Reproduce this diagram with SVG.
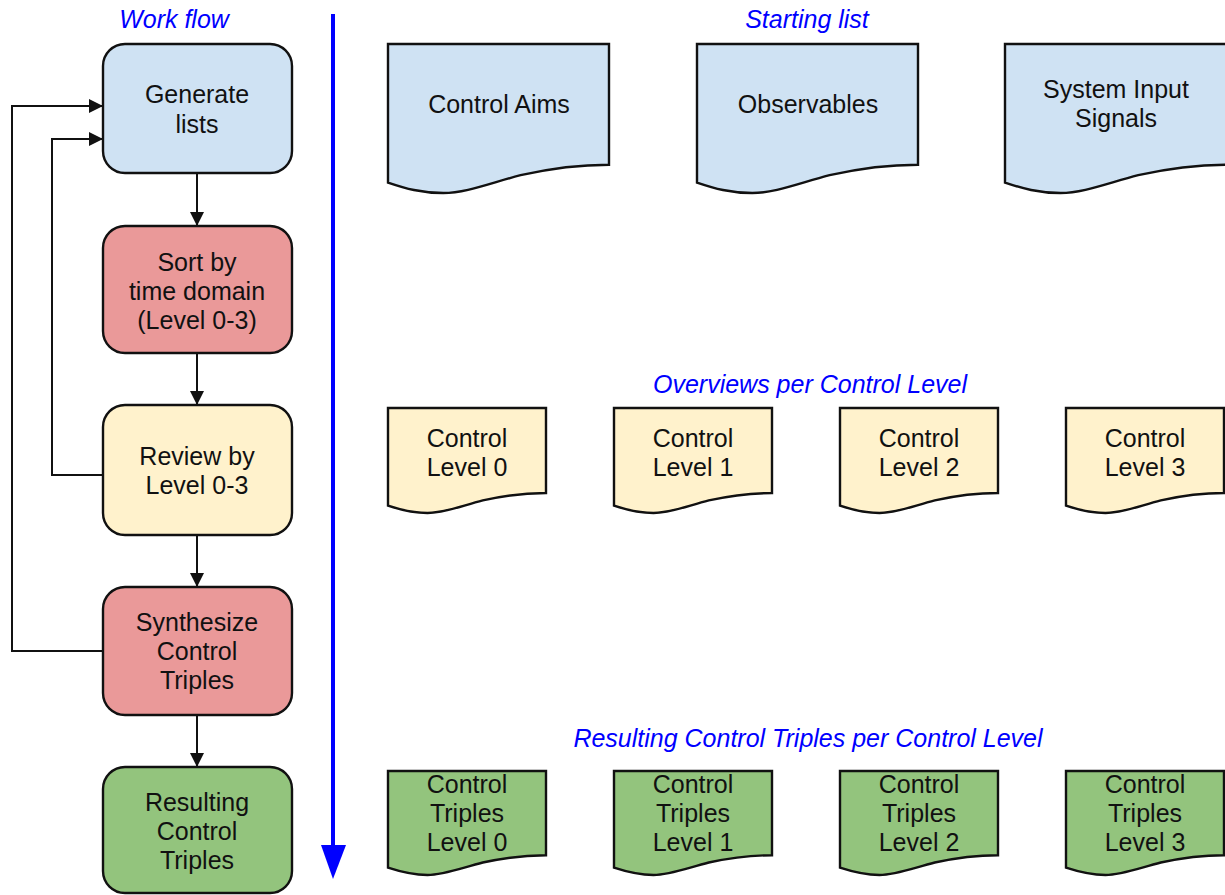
<svg xmlns="http://www.w3.org/2000/svg" xmlns:xlink="http://www.w3.org/1999/xlink" width="1225" height="895" viewBox="0 0 1225 895">
<style>
text{font-family:"Liberation Sans",Arial,sans-serif;font-size:25px;fill:#111;text-anchor:middle}
.title{fill:#0000ff;font-style:italic}
.box{stroke:#111;stroke-width:2.4}
.blue{fill:#cfe2f3}.red{fill:#ea9999}.yel{fill:#fff2cc}.grn{fill:#93c47d}
.doc{stroke:#111;stroke-width:2.4}
.conn{fill:none;stroke:#111;stroke-width:2}
</style>
<defs>
<symbol id="doc" viewBox="0 0 100 100" preserveAspectRatio="none" overflow="visible">
<path d="M0,0 H100 V81 C85,81 72,84 60,88 C45,94 35,100 25,100 C15,100 8,97 0,93 Z" vector-effect="non-scaling-stroke"/>
</symbol>
<marker id="ah" viewBox="0 0 14 14" refX="14" refY="7" markerWidth="14" markerHeight="14" markerUnits="userSpaceOnUse" orient="auto">
<path d="M0,0 L14,7 L0,14 Z" fill="#111"/>
</marker>
</defs>

<text class="title" x="174" y="28">Work flow</text>
<text class="title" x="807" y="28">Starting list</text>
<text class="title" x="810" y="393">Overviews per Control Level</text>
<text class="title" x="808" y="747">Resulting Control Triples per Control Level</text>

<g id="connectors">
<path class="conn" d="M197,173 V226" marker-end="url(#ah)"/>
<path class="conn" d="M197,353 V405" marker-end="url(#ah)"/>
<path class="conn" d="M197,535 V587" marker-end="url(#ah)"/>
<path class="conn" d="M197,715 V767" marker-end="url(#ah)"/>
<path class="conn" d="M103,475 H52 V139 H103" marker-end="url(#ah)"/>
<path class="conn" d="M103,651 H12 V106 H103" marker-end="url(#ah)"/>
<line x1="333" y1="14" x2="333" y2="848" stroke="#0000ff" stroke-width="4"/>
<polygon points="321,845 346,845 333,879" fill="#0000ff"/>
</g>

<g id="generate"><rect class="box blue" x="103" y="44" width="189" height="129" rx="22"/><text x="197" y="103">Generate</text><text x="197" y="133">lists</text></g>
<g id="sort"><rect class="box red" x="103" y="226" width="189" height="127" rx="22"/><text x="197" y="271">Sort by</text><text x="197" y="300">time domain</text><text x="197" y="329">(Level 0-3)</text></g>
<g id="review"><rect class="box yel" x="103" y="405" width="189" height="130" rx="22"/><text x="197" y="465">Review by</text><text x="197" y="494">Level 0-3</text></g>
<g id="synth"><rect class="box red" x="103" y="587" width="189" height="128" rx="22"/><text x="197" y="631">Synthesize</text><text x="197" y="660">Control</text><text x="197" y="689">Triples</text></g>
<g id="result"><rect class="box grn" x="103" y="767" width="189" height="126" rx="22"/><text x="197" y="811">Resulting</text><text x="197" y="840">Control</text><text x="197" y="869">Triples</text></g>

<g id="aims"><use href="#doc" class="doc blue" x="388" y="44" width="221" height="149"/><text x="499" y="113">Control Aims</text></g>
<g id="observables"><use href="#doc" class="doc blue" x="697" y="44" width="221" height="149"/><text x="808" y="113">Observables</text></g>
<g id="signals"><use href="#doc" class="doc blue" x="1005" y="44" width="222" height="149"/><text x="1116" y="98">System Input</text><text x="1116" y="127">Signals</text></g>

<g id="lvl0"><use href="#doc" class="doc yel" x="388" y="408" width="158" height="105"/><text x="467" y="447">Control</text><text x="467" y="476">Level 0</text></g>
<g id="lvl1"><use href="#doc" class="doc yel" x="614" y="408" width="158" height="105"/><text x="693" y="447">Control</text><text x="693" y="476">Level 1</text></g>
<g id="lvl2"><use href="#doc" class="doc yel" x="840" y="408" width="158" height="105"/><text x="919" y="447">Control</text><text x="919" y="476">Level 2</text></g>
<g id="lvl3"><use href="#doc" class="doc yel" x="1066" y="408" width="158" height="105"/><text x="1145" y="447">Control</text><text x="1145" y="476">Level 3</text></g>

<g id="trip0"><use href="#doc" class="doc grn" x="388" y="771" width="158" height="104"/><text x="467" y="793">Control</text><text x="467" y="822">Triples</text><text x="467" y="851">Level 0</text></g>
<g id="trip1"><use href="#doc" class="doc grn" x="614" y="771" width="158" height="104"/><text x="693" y="793">Control</text><text x="693" y="822">Triples</text><text x="693" y="851">Level 1</text></g>
<g id="trip2"><use href="#doc" class="doc grn" x="840" y="771" width="158" height="104"/><text x="919" y="793">Control</text><text x="919" y="822">Triples</text><text x="919" y="851">Level 2</text></g>
<g id="trip3"><use href="#doc" class="doc grn" x="1066" y="771" width="158" height="104"/><text x="1145" y="793">Control</text><text x="1145" y="822">Triples</text><text x="1145" y="851">Level 3</text></g>
</svg>
